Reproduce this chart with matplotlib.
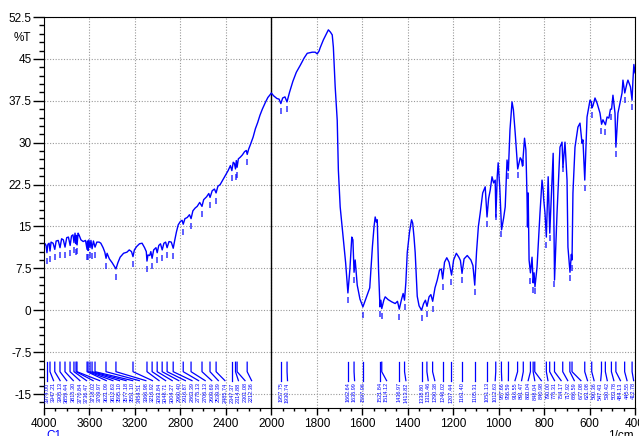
import numpy as np
import matplotlib
matplotlib.use('Agg')
import matplotlib.pyplot as plt
from matplotlib.ticker import FixedLocator, FuncFormatter

plt.rcParams['font.family'] = ['Liberation Sans', 'DejaVu Sans']

# spectrum: wavenumber (1/cm) and %T
wavenumber = [
    4000, 3990, 3982, 3974, 3966, 3955, 3947, 3938, 3920, 3905, 3893, 3875, 3859, 3845, 3830,
    3815, 3800, 3785, 3770, 3758, 3745, 3736, 3727, 3718, 3714, 3709, 3700, 3690, 3675, 3655,
    3635, 3621, 3617, 3612, 3605, 3595, 3587, 3577, 3565, 3551, 3535, 3515, 3500, 3480, 3465,
    3454, 3445, 3425, 3400, 3385, 3367, 3350, 3330, 3300, 3270, 3250, 3230, 3217, 3205, 3185,
    3160, 3137, 3115, 3100, 3094, 3085, 3070, 3060, 3049, 3035, 3015, 3004, 2990, 2975, 2960,
    2945, 2930, 2917, 2900, 2880, 2863, 2850, 2835, 2819, 2800, 2785, 2775, 2760, 2740, 2720,
    2706, 2690, 2670, 2652, 2630, 2610, 2595, 2570, 2550, 2539, 2520, 2500, 2486, 2470, 2450,
    2425, 2400, 2380, 2360, 2347, 2335, 2325, 2315, 2308, 2301, 2290, 2273, 2255, 2235, 2220,
    2212, 2200, 2185, 2160, 2140, 2120, 2100, 2079, 2050, 2030, 2010, 2000,
    1990, 1975, 1966, 1958, 1950, 1940, 1931, 1920, 1905, 1890, 1872, 1855, 1842, 1820, 1807,
    1798, 1790, 1785, 1771, 1760, 1749, 1740, 1732, 1727, 1719, 1710, 1705, 1697, 1684, 1673,
    1663, 1654, 1646, 1641, 1636, 1631, 1622, 1610, 1597, 1582, 1567, 1555, 1548, 1543, 1538,
    1534, 1528, 1522, 1518, 1514, 1505, 1499, 1486, 1470, 1455, 1445, 1437, 1428, 1420, 1414,
    1408, 1402, 1392, 1383, 1378, 1372, 1367, 1358, 1350, 1339, 1330, 1322, 1315, 1306, 1298,
    1290, 1280, 1270, 1260, 1252, 1246, 1238, 1228, 1218, 1207, 1198, 1186, 1175, 1168, 1161,
    1152, 1138, 1122, 1113, 1105, 1097, 1089, 1081, 1070, 1059, 1051, 1044, 1037, 1029, 1022,
    1015, 1012, 1006, 1002, 995, 987, 978, 971, 963, 957, 950, 941, 935, 927, 919,
    916, 905, 900, 895, 886, 880, 875, 873, 870, 866, 860, 853, 848, 844, 840,
    831, 818, 809, 804, 802, 796, 790, 782, 775, 765, 760, 754, 743, 730, 721,
    717, 708, 699, 695, 686, 680, 677, 673, 664, 651, 642, 633, 629, 621, 611,
    598, 592, 590, 585, 576, 567, 554, 547, 541, 530, 523, 515, 508, 503, 497,
    488, 484, 475, 466, 457, 453, 445, 435, 431, 420, 413, 409, 405, 400,
]
transmittance = [
    11.4, 11.9, 11.6, 10.3, 11.8, 12.0, 10.6, 12.2, 12.0, 10.9, 12.4, 12.5, 11.2, 12.8, 12.6,
    11.3, 13.0, 13.1, 11.6, 13.3, 13.5, 12.1, 13.8, 11.9, 13.4, 11.7, 13.8, 13.4, 12.6, 12.3,
    12.5, 10.9, 12.4, 10.7, 12.6, 11.2, 12.5, 11.0, 12.4, 11.3, 12.2, 12.2, 12.0, 11.2, 10.4,
    9.3, 10.2, 9.2, 8.5, 8.0, 7.4, 8.5, 9.5, 10.2, 10.4, 10.8, 10.5, 9.6, 10.8, 11.4,
    11.9, 12.0, 11.2, 10.5, 8.8, 9.9, 9.8, 10.5, 9.3, 10.8, 11.2, 10.3, 11.6, 11.9, 10.8,
    12.0, 12.2, 11.2, 12.3, 12.2, 11.1, 12.5, 14.0, 15.3, 15.9, 16.1, 15.4, 16.4, 16.6, 17.1,
    16.4, 17.8, 18.3, 18.6, 19.3, 18.6, 19.8, 20.3, 20.9, 20.2, 21.4, 21.7, 21.0, 22.2, 22.5,
    23.4, 24.3, 25.0, 25.9, 25.0, 26.5, 26.3, 25.3, 26.8, 25.6, 27.1, 27.4, 27.8, 28.4, 28.6,
    27.9, 28.8, 29.6, 31.0, 32.5, 33.6, 34.9, 36.0, 37.3, 38.1, 38.6, 38.9,
    38.4, 37.9, 37.8, 37.0, 38.0, 38.2, 37.3, 39.0, 41.0, 42.6, 43.9, 45.2, 46.0, 46.2, 46.2,
    45.9, 46.4, 47.0, 48.4, 49.3, 50.2, 49.8, 49.3, 47.1, 40.0, 34.0, 25.1, 18.5, 13.1, 8.5,
    3.1, 7.5, 13.1, 12.6, 6.8, 9.0, 4.5, 2.0, 0.6, 2.3, 4.0, 11.5, 15.0, 16.7, 15.8,
    16.2, 7.0, 0.6, 1.8, 0.3, 1.8, 2.4, 1.9, 1.5, 1.2, 1.6, 0.2, 1.8, 3.0, 1.8,
    5.0, 10.3, 14.0, 16.2, 15.6, 13.0, 10.3, 2.5, 0.8, 0.0, 1.2, 1.8, 0.7, 2.4, 2.8,
    1.6, 4.0, 5.4, 7.2, 7.4, 5.6, 8.6, 9.4, 8.6, 6.3, 9.0, 10.2, 9.5, 8.9, 6.6,
    9.2, 9.8, 9.0, 8.0, 4.5, 10.5, 15.0, 17.4, 21.0, 22.1, 16.7, 20.0, 21.5, 23.9, 22.8,
    23.3, 16.7, 24.0, 26.4, 22.0, 14.4, 16.5, 18.5, 26.9, 25.0, 32.3, 37.3, 35.9, 31.7, 26.9,
    25.3, 27.3, 27.0, 25.8, 30.8, 28.7, 20.3, 14.9, 21.0, 9.0, 6.7, 9.5, 4.9, 6.7, 4.2,
    7.7, 17.4, 23.3, 21.5, 20.0, 17.4, 13.1, 23.9, 13.8, 23.3, 28.1, 5.4, 17.4, 29.2, 30.1,
    25.6, 30.1, 23.3, 11.3, 6.8, 10.0, 9.0, 21.0, 29.2, 32.8, 33.5, 29.9, 30.5, 23.3, 34.6,
    37.6, 37.3, 36.2, 36.6, 38.0, 37.1, 35.3, 33.3, 34.1, 33.2, 34.6, 34.4, 36.0, 36.0, 38.5,
    35.3, 29.2, 35.3, 37.1, 38.9, 41.2, 38.9, 40.7, 41.2, 40.0, 37.6, 41.2, 44.0, 42.5,
]

# picked peaks (labels at the bottom)
peaks = [
    3974.00, 3947.21, 3905.13, 3859.44, 3815.30, 3770.84, 3736.47, 3718.02, 3709.97, 3621.09,
    3612.63, 3595.10, 3577.18, 3551.10, 3454.51, 3366.98, 3216.92, 3093.84, 3048.71, 3004.27,
    2960.40, 2916.87, 2863.39, 2775.13, 2706.13, 2609.69, 2539.39, 2485.74, 2347.37, 2314.88,
    2301.08, 2212.36, 1957.75, 1930.74, 1662.64, 1635.99, 1597.06, 1521.84, 1514.12, 1436.97,
    1413.82, 1338.80, 1315.46, 1290.38, 1246.02, 1207.44, 1161.40, 1105.31, 1051.13, 1012.63,
    987.66, 956.59, 916.55, 891.47, 860.04, 848.04, 840.98, 790.00, 775.31, 754.17,
    717.92, 686.59, 677.08, 621.08, 590.36, 547.43, 530.42, 503.78, 484.13, 445.55,
    412.78,
]

xmajor = [4000, 3600, 3200, 2800, 2400, 2000, 1800, 1600, 1400, 1200, 1000, 800, 600, 400]
ymajor = [-15, -7.5, 0, 7.5, 15, 22.5, 30, 37.5, 45, 52.5]


def fwd(w):
    w = np.asarray(w, dtype=float)
    return np.where(w > 2000, 2000 + (w - 2000) / 2, w)


def inv(u):
    u = np.asarray(u, dtype=float)
    return np.where(u > 2000, 2000 + (u - 2000) * 2, u)


wn = np.array(wavenumber)
tr = np.array(transmittance)

fig = plt.figure(figsize=(6.39, 4.36), dpi=100)
ax = fig.add_axes([44 / 639, 28 / 436, 591 / 639, 391 / 436])
ax.set_xscale('function', functions=(fwd, inv))
ax.set_xlim(4000, 400)
ax.set_ylim(-17.5, 52.5)

ax.xaxis.set_major_locator(FixedLocator(xmajor))
xminor = [w for w in list(range(3900, 2000, -100)) + list(range(1950, 400, -50)) if w not in xmajor]
ax.xaxis.set_minor_locator(FixedLocator(xminor))
ax.xaxis.set_major_formatter(FuncFormatter(lambda v, p: '%d' % round(v)))
ax.yaxis.set_major_locator(FixedLocator(ymajor))
ax.yaxis.set_minor_locator(FixedLocator(np.arange(-16.5, 52.5, 1.5)))
ax.yaxis.set_major_formatter(FuncFormatter(lambda v, p: '%g' % v))

ax.tick_params(axis='y', which='major', length=8, width=1, pad=1, labelsize=8.5)
ax.tick_params(axis='y', which='minor', length=3.6, width=1)
ax.tick_params(axis='x', which='major', length=5, width=1, pad=2, labelsize=8.5)
ax.tick_params(axis='x', which='minor', length=2.5, width=1)

ax.grid(True, which='major', color='#999999', linestyle=(0, (1, 1.5)), linewidth=0.8)
ax.axvline(2000, color='black', lw=1)

ax.plot(wn, tr, color='blue', lw=1)

# small dashes under each picked peak
pk = np.array(peaks)
pk_t = np.interp(pk, wn[::-1], tr[::-1])
ax.plot(pk, pk_t - 1.4, linestyle='none', marker='|', ms=4, mew=1.1, color='blue', alpha=0.8)

# peak labels, spread out so they do not overlap
s = 3000 - fwd(pk)
gap = 29.0
lab = s.copy()
for i in range(1, len(lab)):
    lab[i] = max(lab[i], lab[i - 1] + gap)
lab[-1] = min(lab[-1], 2600 - 6)
for i in range(len(lab) - 2, -1, -1):
    lab[i] = min(lab[i], lab[i + 1] - gap)
lab_w = inv(3000 - lab)

for w, lw_ in zip(pk, lab_w):
    ax.plot([w, w, lw_], [-9.3, -11.0, -12.6], color='blue', lw=0.9)
    ax.text(lw_, -12.9, '%.2f' % w, rotation=90, ha='center', va='top',
            fontsize=4, color='blue')

fig.text(22 / 639, 1 - 38 / 436, '%T', ha='center', va='center', fontsize=8.5)
fig.text(46 / 639, 1 - 430 / 436, 'C1', ha='left', va='top', fontsize=8.5, color='blue')
fig.text(634 / 639, 1 - 430 / 436, '1/cm', ha='right', va='top', fontsize=8.5)

fig.savefig('out.png', dpi=100)
